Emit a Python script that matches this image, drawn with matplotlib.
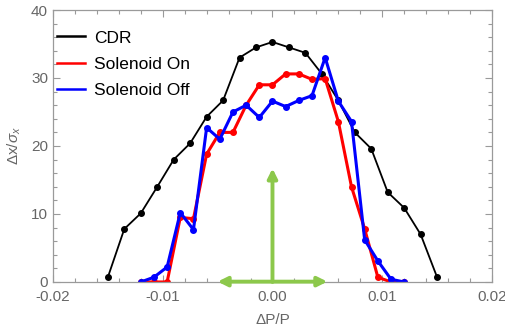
import matplotlib
matplotlib.use("Agg")
import matplotlib.pyplot as plt
from matplotlib.ticker import MultipleLocator, FormatStrFormatter

plt.rcParams['font.family'] = ['Liberation Sans', 'DejaVu Sans']
plt.rcParams['mathtext.fontset'] = 'custom'
plt.rcParams['mathtext.rm'] = 'Liberation Sans'
plt.rcParams['mathtext.it'] = 'Liberation Sans:italic'

# CDR: 21 points, step 0.0015
cdr_x = [-0.015, -0.0135, -0.012, -0.0105, -0.009, -0.0075, -0.006, -0.0045, -0.003, -0.0015,
         0.0, 0.0015, 0.003, 0.0045, 0.006, 0.0075, 0.009, 0.0105, 0.012, 0.0135, 0.015]
cdr_y = [0.7, 7.8, 10.1, 14.0, 18.0, 20.4, 24.3, 26.7, 33.0, 34.5,
         35.3, 34.5, 33.7, 30.6, 26.7, 22.0, 19.6, 13.2, 10.9, 7.0, 0.7]

# solenoid scans: 21 points, step 0.0012
sol_x = [-0.012, -0.0108, -0.0096, -0.0084, -0.0072, -0.006, -0.0048, -0.0036, -0.0024, -0.0012,
         0.0, 0.0012, 0.0024, 0.0036, 0.0048, 0.006, 0.0072, 0.0084, 0.0096, 0.0108, 0.012]
on_y = [0.0, 0.0, 0.0, 9.5, 9.3, 18.8, 22.0, 22.0, 26.0, 29.0,
        29.0, 30.6, 30.6, 29.8, 29.9, 23.6, 14.0, 7.8, 0.7, 0.0, 0.0]
off_y = [0.0, 0.7, 2.2, 10.2, 7.7, 22.7, 21.0, 25.0, 26.0, 24.2,
         26.6, 25.8, 26.7, 27.4, 33.0, 26.6, 23.6, 6.2, 3.1, 0.4, 0.0]

green = '#8cc84b'
gray = '#9a9a9a'

fig = plt.figure(figsize=(5.06, 3.29), dpi=100)
ax = fig.add_axes([0.1047, 0.1429, 0.8676, 0.8267])

ax.plot(cdr_x, cdr_y, color='black', lw=1.3, marker='o', ms=4, label='CDR')
ax.plot(sol_x, on_y, color='#ff0000', lw=2.2, marker='o', ms=4, label='Solenoid On')
ax.plot(sol_x, off_y, color='#0000ff', lw=2.2, marker='o', ms=4, label='Solenoid Off')

# green arrows
ax.annotate('', xy=(0.0, 16.7), xytext=(0.0, 0.0),
            arrowprops=dict(arrowstyle='-|>', color=green, lw=2.8,
                            mutation_scale=14, shrinkA=0, shrinkB=0))
ax.annotate('', xy=(-0.005, 0.05), xytext=(0.005, 0.05),
            arrowprops=dict(arrowstyle='<|-|>', color=green, lw=2.8,
                            mutation_scale=14, shrinkA=0, shrinkB=0))

ax.set_xlim(-0.02, 0.02)
ax.set_ylim(0, 40)
ax.xaxis.set_major_locator(MultipleLocator(0.01))
ax.xaxis.set_minor_locator(MultipleLocator(0.002))
ax.yaxis.set_major_locator(MultipleLocator(10))
ax.yaxis.set_minor_locator(MultipleLocator(2))
ax.yaxis.set_major_formatter(FormatStrFormatter('%d'))
ax.xaxis.set_major_formatter(lambda v, p: ('%.2f' % v).replace('-0.00', '0.00'))

ax.tick_params(which='both', direction='in', top=True, right=True, colors=gray,
               labelcolor='#666666', labelsize=11)
ax.tick_params(which='major', length=5, width=0.8)
ax.tick_params(which='minor', length=3, width=0.8)
ax.tick_params(axis='x', pad=6)
for s in ax.spines.values():
    s.set_color(gray)
    s.set_linewidth(0.9)

ax.set_xlabel(r'ΔP/P', color='#666666', fontsize=11, labelpad=6)
ax.set_ylabel(r'Δx/$\sigma_x$', color='#666666', fontsize=11, labelpad=6)

leg = ax.legend(loc='upper left', frameon=False, fontsize=12.5, handlelength=1.6,
                handletextpad=0.55, labelspacing=0.65, borderaxespad=0, borderpad=0,
                bbox_to_anchor=(0.009, 0.925))
for h in leg.legend_handles:
    h.set_marker('')
    h.set_linewidth(1.8)

fig.savefig('out.png', dpi=100)
